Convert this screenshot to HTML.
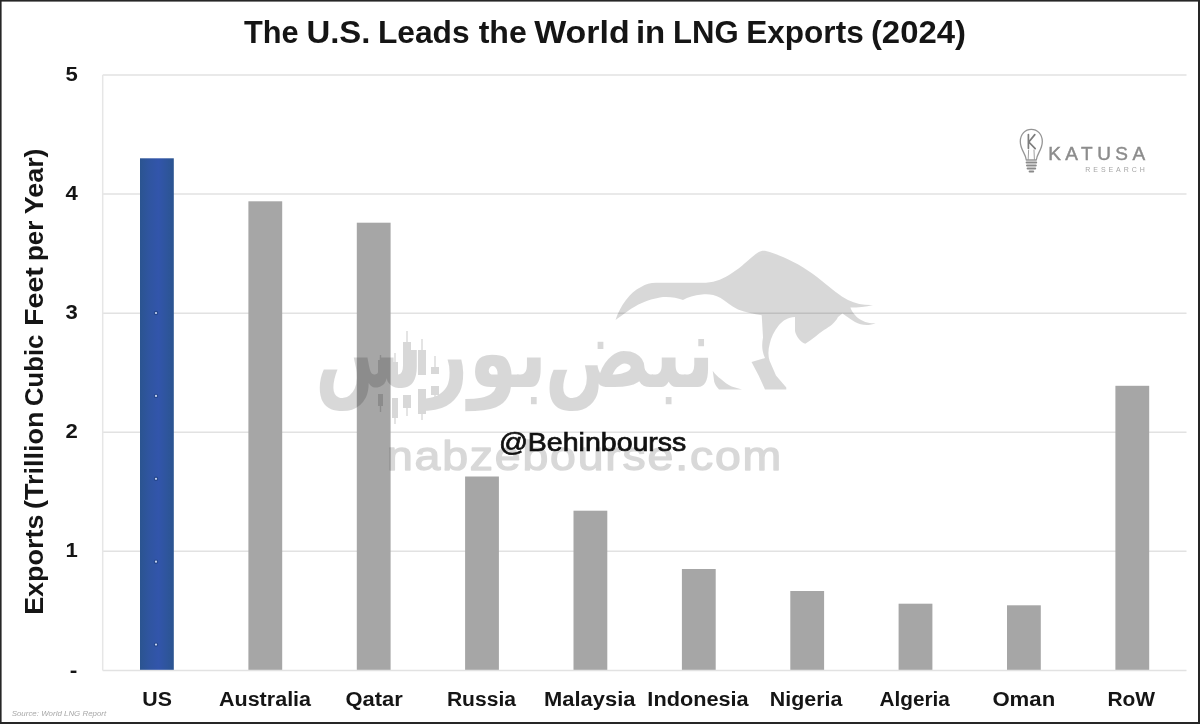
<!DOCTYPE html>
<html lang="en"><head><meta charset="utf-8"><title>The U.S. Leads the World in LNG Exports (2024)</title>
<style>html,body{margin:0;padding:0;background:#fff}body{width:1200px;height:724px;overflow:hidden}svg{display:block}.b{font-family:"Liberation Sans",Arial,sans-serif;font-weight:700;fill:#151515}.r{font-family:"Liberation Sans",Arial,sans-serif;fill:#111}.fa{font-family:"DejaVu Sans",sans-serif;font-weight:700}</style></head><body>
<svg width="1200" height="724" viewBox="0 0 1200 724">
<rect x="0" y="0" width="1200" height="724" fill="#fff"/>
<defs><linearGradient id="ub" x1="0" y1="0" x2="1" y2="0"><stop offset="0" stop-color="#2b5490"/><stop offset="0.25" stop-color="#2f559f"/><stop offset="0.55" stop-color="#3255ab"/><stop offset="0.8" stop-color="#2e559c"/><stop offset="1" stop-color="#2b5490"/></linearGradient></defs>
<line x1="102.7" y1="670.4" x2="1186.5" y2="670.4" stroke="#e2e2e2" stroke-width="1.5"/>
<line x1="102.7" y1="551.3" x2="1186.5" y2="551.3" stroke="#e2e2e2" stroke-width="1.5"/>
<line x1="102.7" y1="432.2" x2="1186.5" y2="432.2" stroke="#e2e2e2" stroke-width="1.5"/>
<line x1="102.7" y1="313.2" x2="1186.5" y2="313.2" stroke="#e2e2e2" stroke-width="1.5"/>
<line x1="102.7" y1="194.1" x2="1186.5" y2="194.1" stroke="#e2e2e2" stroke-width="1.5"/>
<line x1="102.7" y1="75.0" x2="1186.5" y2="75.0" stroke="#e2e2e2" stroke-width="1.5"/>
<line x1="102.7" y1="75.0" x2="102.7" y2="670.4" stroke="#e6e6e6" stroke-width="1.5"/>
<rect x="140.0" y="158.3" width="33.8" height="511.5" fill="url(#ub)"/>
<rect x="248.4" y="201.3" width="33.8" height="468.5" fill="#a6a6a6"/>
<rect x="356.8" y="222.7" width="33.8" height="447.1" fill="#a6a6a6"/>
<rect x="465.1" y="476.5" width="33.8" height="193.3" fill="#a6a6a6"/>
<rect x="573.5" y="510.7" width="33.8" height="159.1" fill="#a6a6a6"/>
<rect x="681.9" y="569.0" width="33.8" height="100.8" fill="#a6a6a6"/>
<rect x="790.3" y="591.0" width="33.8" height="78.8" fill="#a6a6a6"/>
<rect x="898.6" y="603.7" width="33.8" height="66.1" fill="#a6a6a6"/>
<rect x="1007.0" y="605.3" width="33.8" height="64.5" fill="#a6a6a6"/>
<rect x="1115.4" y="385.8" width="33.8" height="284.0" fill="#a6a6a6"/>
<circle cx="156" cy="313" r="2.2" fill="#24468c"/><circle cx="156" cy="313" r="1.1" fill="#c9d6f2"/>
<circle cx="156" cy="395.9" r="2.2" fill="#24468c"/><circle cx="156" cy="395.9" r="1.1" fill="#c9d6f2"/>
<circle cx="156" cy="478.8" r="2.2" fill="#24468c"/><circle cx="156" cy="478.8" r="1.1" fill="#c9d6f2"/>
<circle cx="156" cy="561.7" r="2.2" fill="#24468c"/><circle cx="156" cy="561.7" r="1.1" fill="#c9d6f2"/>
<circle cx="156" cy="644.6" r="2.2" fill="#24468c"/><circle cx="156" cy="644.6" r="1.1" fill="#c9d6f2"/>
<text class="b" x="142.39" y="705.6" font-size="19.6" textLength="29.66" lengthAdjust="spacingAndGlyphs">US</text>
<text class="b" x="218.95" y="705.6" font-size="19.6" textLength="92.14" lengthAdjust="spacingAndGlyphs">Australia</text>
<text class="b" x="345.41" y="705.6" font-size="19.6" textLength="57.30" lengthAdjust="spacingAndGlyphs">Qatar</text>
<text class="b" x="446.91" y="705.6" font-size="19.6" textLength="69.09" lengthAdjust="spacingAndGlyphs">Russia</text>
<text class="b" x="544.10" y="705.6" font-size="19.6" textLength="91.35" lengthAdjust="spacingAndGlyphs">Malaysia</text>
<text class="b" x="647.36" y="705.6" font-size="19.6" textLength="101.35" lengthAdjust="spacingAndGlyphs">Indonesia</text>
<text class="b" x="769.89" y="705.6" font-size="19.6" textLength="72.55" lengthAdjust="spacingAndGlyphs">Nigeria</text>
<text class="b" x="879.47" y="705.6" font-size="19.6" textLength="70.46" lengthAdjust="spacingAndGlyphs">Algeria</text>
<text class="b" x="992.40" y="705.6" font-size="19.6" textLength="62.80" lengthAdjust="spacingAndGlyphs">Oman</text>
<text class="b" x="1107.41" y="705.6" font-size="19.6" textLength="47.72" lengthAdjust="spacingAndGlyphs">RoW</text>
<text class="b" x="77.3" y="676.8" font-size="20" text-anchor="end" textLength="7.6" lengthAdjust="spacingAndGlyphs">-</text>
<text class="b" x="77.9" y="557.3" font-size="20" text-anchor="end" textLength="12.3" lengthAdjust="spacingAndGlyphs">1</text>
<text class="b" x="77.9" y="438.2" font-size="20" text-anchor="end" textLength="12.3" lengthAdjust="spacingAndGlyphs">2</text>
<text class="b" x="77.9" y="319.2" font-size="20" text-anchor="end" textLength="12.3" lengthAdjust="spacingAndGlyphs">3</text>
<text class="b" x="77.9" y="200.1" font-size="20" text-anchor="end" textLength="12.3" lengthAdjust="spacingAndGlyphs">4</text>
<text class="b" x="77.9" y="81.0" font-size="20" text-anchor="end" textLength="12.3" lengthAdjust="spacingAndGlyphs">5</text>
<text class="b" transform="translate(43.1 613) rotate(-90)" y="0" font-size="25.5"><tspan x="-1.85" textLength="100.22" lengthAdjust="spacingAndGlyphs">Exports</tspan> <tspan x="104.08" textLength="97.49" lengthAdjust="spacingAndGlyphs">(Trillion</tspan> <tspan x="207.10" textLength="71.15" lengthAdjust="spacingAndGlyphs">Cubic</tspan> <tspan x="287.04" textLength="58.86" lengthAdjust="spacingAndGlyphs">Feet</tspan> <tspan x="351.92" textLength="40.32" lengthAdjust="spacingAndGlyphs">per</tspan> <tspan x="398.87" textLength="65.69" lengthAdjust="spacingAndGlyphs">Year)</tspan></text>
<text class="b" y="42.8" font-size="31"><tspan x="243.95" textLength="54.66" lengthAdjust="spacingAndGlyphs">The</tspan> <tspan x="306.44" textLength="64.03" lengthAdjust="spacingAndGlyphs">U.S.</tspan> <tspan x="377.95" textLength="91.74" lengthAdjust="spacingAndGlyphs">Leads</tspan> <tspan x="478.68" textLength="48.15" lengthAdjust="spacingAndGlyphs">the</tspan> <tspan x="534.20" textLength="95.49" lengthAdjust="spacingAndGlyphs">World</tspan> <tspan x="635.91" textLength="29.32" lengthAdjust="spacingAndGlyphs">in</tspan> <tspan x="672.99" textLength="65.65" lengthAdjust="spacingAndGlyphs">LNG</tspan> <tspan x="746.27" textLength="117.43" lengthAdjust="spacingAndGlyphs">Exports</tspan> <tspan x="870.91" textLength="95.00" lengthAdjust="spacingAndGlyphs">(2024)</tspan></text>
<g fill="none" stroke="#959595" stroke-width="1.3" stroke-linecap="round" stroke-linejoin="round"><path d="M1026.3,160 C1025.8,153.5 1020.3,150 1020.3,141.5 C1020.3,134 1025.3,129.3 1031.3,129.3 C1037.3,129.3 1042.3,134 1042.3,141.5 C1042.3,150 1036.8,153.5 1036.3,160 Z"/><path d="M1028.6,150 L1028.2,159.5 M1034,150 L1034.4,159.5" stroke-width="0.9"/><path d="M1028.4,134.6 V148.2 M1034.8,134.6 L1028.8,142 L1035.2,148.6" stroke="#7d7d7d" stroke-width="1.7"/><path d="M1026.6,162.6 H1036.2 M1027,165.6 H1035.8 M1027.6,168.6 H1035.2 M1029.6,171.6 H1033.2" stroke="#8a8a8a" stroke-width="2"/></g>
<text x="1048.2" y="159.6" font-size="19" textLength="97" lengthAdjust="spacing" style="font-family:'Liberation Sans',Arial,sans-serif;fill:#8c8c8c;stroke:#8c8c8c;stroke-width:0.45">KATUSA</text>
<text x="1085.3" y="171.7" font-size="7" textLength="59.4" lengthAdjust="spacing" style="font-family:'Liberation Sans',Arial,sans-serif;fill:#a6a6a6">RESEARCH</text>
<text x="11.7" y="716.2" font-size="7.5" font-style="italic" textLength="94.5" lengthAdjust="spacingAndGlyphs" style="font-family:'Liberation Sans',Arial,sans-serif;fill:#a8a8a8">Source: World LNG Report</text>
<g opacity="0.15" fill="#000">
<path d="M615.5,320 C620,306 630,292 641,287 C646,284 650,282.8 656,282.8 L706,282.8 C716,282 724,278.5 732,273 C742,267 751,257 758,252.5 C760.5,250.8 763.5,250.3 766,251 C772,252.5 777,254.5 783,257 C796,262.5 810,271 822,281 C832,289 840,296 848,300 C856,304 864,305.2 873,305 C866,307 858,307.4 850.4,307.6 C851,310 853.5,314 857,317.2 C863,322 869,323.5 875.7,323.2 C869,326 861,325.5 855,322 C850,319 846,316 842.5,313.5 L838,317 C835,323 830,326.5 824,330 C818,334 812,340 805.3,343.8 C800,342 796,336 795,331 L795,317 C788,317.5 783,320.5 779,325 C774,331 771,338 769.7,344 C768,350 768,356 769.7,361 L776,375.5 L786.3,387.4 L786.3,389.4 L765,389.4 L758.6,375.5 L751.5,362 L765,358 C762,352 761.5,345 763,337.5 L761.7,315.3 C754,314 746,312.5 738,309.5 C731,306 726,301 720.6,297.9 C714,294.5 708,293.8 702,294.5 C694,295.5 688,297 683,300 C676,297.5 668,296.5 660,297.5 C648,299.5 636,305 628,311 C623,314.5 619,317.5 615.5,320 Z"/>
<path d="M712.7,370.7 C715,374 718,377 720.6,378.7 C724,382 728,384.5 731.7,386.6 L742,389.4 L719,389.4 C716.5,387 715,384.5 714.2,381.8 Z"/>
<text class="fa" y="386.5" font-size="100" direction="rtl" text-anchor="start"><tspan x="714.6" textLength="170" lengthAdjust="spacingAndGlyphs">نبض</tspan> <tspan x="547.4" textLength="232.7" lengthAdjust="spacingAndGlyphs">بورس</tspan></text>
<rect x="378" y="360" width="5" height="24"/><rect x="379.8" y="355" width="1.4" height="5"/>
<rect x="378" y="394" width="5" height="12"/><rect x="379.8" y="406" width="1.4" height="6"/>
<rect x="392" y="362" width="6" height="22"/><rect x="394.3" y="353" width="1.4" height="9"/>
<rect x="392" y="398" width="6" height="20"/><rect x="394.3" y="418" width="1.4" height="6"/>
<rect x="403" y="342" width="8" height="40"/><rect x="406.3" y="331" width="1.4" height="11"/>
<rect x="403" y="395" width="8" height="13"/><rect x="406.3" y="408" width="1.4" height="8"/>
<rect x="418" y="350" width="8" height="25"/><rect x="421.3" y="339" width="1.4" height="11"/>
<rect x="418" y="389" width="8" height="25"/><rect x="421.3" y="414" width="1.4" height="6"/>
<rect x="431" y="367" width="8" height="7"/><rect x="434.3" y="356" width="1.4" height="11"/>
<rect x="431" y="386" width="8" height="9"/><rect x="434.3" y="395" width="1.4" height="9"/>
<text x="387" y="469.5" font-size="41" textLength="396" lengthAdjust="spacingAndGlyphs" style="font-family:'Liberation Sans',Arial,sans-serif;letter-spacing:1.6px;fill:#000;stroke:#000;stroke-width:1.4;stroke-linejoin:round">nabzebourse.com</text>
</g>
<text class="r" x="498.9" y="450.8" font-size="25" textLength="187.5" lengthAdjust="spacingAndGlyphs" style="stroke:#111;stroke-width:0.7">@Behinbourss</text>
<rect x="0" y="0" width="1200" height="1.6" fill="#262626"/><rect x="0" y="0" width="1.6" height="724" fill="#262626"/><rect x="1198" y="0" width="2" height="724" fill="#262626"/><rect x="0" y="722" width="1200" height="2" fill="#262626"/>
</svg></body></html>
